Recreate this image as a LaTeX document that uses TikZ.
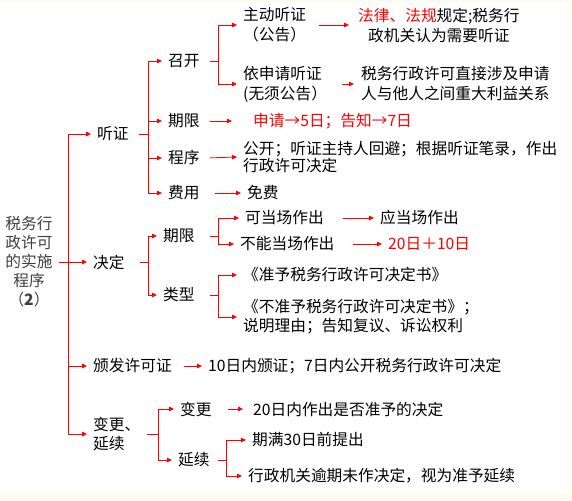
\documentclass[tikz,border=0pt]{standalone}
\usepackage{fontspec}
\setmainfont{Noto Sans CJK SC}
\usetikzlibrary{arrows.meta}
\definecolor{cream}{RGB}{255,251,238}
\definecolor{lred}{RGB}{255,0,0}

\begin{document}
\begin{tikzpicture}[x=1pt, y=-1pt]
\tikzset{
  txt/.style={anchor=west, inner xsep=6pt, inner ysep=1pt, font=\fontsize{15.7}{19}\selectfont, text=black},
  two/.style={txt, align=left},
  hot/.style={txt, text=lred},
  stem/.style={draw=lred, line width=0.8pt},
  link/.style={stem, -{Triangle[length=5pt,width=4.5pt]}}
}
% page
\fill[cream] (0,0) rectangle (572,500);
\fill[white] (0,2) rectangle (567,493);
\useasboundingbox (0,0) rectangle (572,500);

% root and first level
\node[txt, align=center, anchor=center, text=black!75] (root) at (29,262) {税务行\\政许可\\的实施\\程序\\（\textbf{2}）};
\node[txt] (tz) at (91,134) {听证};
\node[txt] (jd) at (87,262) {决定};
\node[txt] (bf) at (87,366) {颁发许可证};
\node[two] (bg) at (87,434) {变更、\\延续};

% hearing
\node[txt] (zk) at (162,61) {召开};
\node[txt] (qx1) at (162,121) {期限};
\node[txt] (cx) at (162,158) {程序};
\node[txt] (fy) at (162,193) {费用};
\node[txt, align=center, font=\fontsize{15.7}{20}\selectfont] (zd) at (237,25) {主动听证\\（公告）};
\node[txt, align=center, font=\fontsize{15.7}{20}\selectfont] (fl) at (352,25) {\textcolor{lred}{法律、法规}规定;税务行\\政机关认为需要听证};
\node[two, font=\fontsize{15.7}{20}\selectfont] (ysq) at (237,84) {依申请听证\\(无须公告）};
\node[two, font=\fontsize{15.7}{20}\selectfont] (sw) at (355,84) {税务行政许可直接涉及申请\\人与他人之间重大利益关系};
\node[hot] (sq) at (247,121) {申请→5日；告知→7日};
\node[two, font=\fontsize{15.7}{17.5}\selectfont] (gk) at (237,157) {公开；听证主持人回避；根据听证笔录，作出\\行政许可决定};
\node[txt] (mf) at (241,193) {免费};

% decision
\node[txt] (qx2) at (157,236) {期限};
\node[txt] (lx) at (157,295) {类型};
\node[txt] (kd) at (239,218) {可当场作出};
\node[txt] (bn) at (234,244) {不能当场作出};
\node[txt] (yd) at (374,218) {应当场作出};
\node[hot] (es) at (382,244) {20日＋10日};
\node[txt] (zy) at (237,275) {《准予税务行政许可决定书》};
\node[two] (by) at (237,317) {《不准予税务行政许可决定书》；\\说明理由；告知复议、诉讼权利};

% licence
\node[txt] (bz) at (202,366) {10日内颁证；7日内公开税务行政许可决定};

% change and renewal
\node[txt] (bg2) at (174,409) {变更};
\node[txt] (yx) at (172,460) {延续};
\node[txt] (es2) at (247,409) {20日内作出是否准予的决定};
\node[txt] (qm) at (246,440) {期满30日前提出};
\node[txt] (xz) at (242,476) {行政机关逾期未作决定，视为准予延续};

% junctions
\coordinate (j0) at (68,262);
\coordinate (j1) at (148,134);
\coordinate (j2) at (218,61);
\coordinate (j3) at (148,262);
\coordinate (j4) at (218,236);
\coordinate (j5) at (218,295);
\coordinate (j6) at (158,434);
\coordinate (j7) at (226,460);

\draw[stem] (root.east) -- (j0);
\draw[stem, shorten <=4pt] (tz.east) -- (j1);
\draw[stem, shorten <=4pt] (zk.east) -- (j2);
\draw[stem, shorten <=9pt] (jd.east) -- (j3);
\draw[stem, shorten <=9pt] (qx2.east) -- (j4);
\draw[stem, shorten <=9pt] (lx.east) -- (j5);
\draw[stem] (bg.east) -- (j6);
\draw[stem, shorten <=2pt] (yx.east) -- (j7);

\foreach \kid in {tz,jd,bf,bg} \draw[link] (j0) |- (\kid.west);
\foreach \kid in {zk,qx1,cx,fy} \draw[link] (j1) |- (\kid.west);
\foreach \kid in {zd,ysq} \draw[link] (j2) |- (\kid.west);
\foreach \kid in {qx2,lx} \draw[link] (j3) |- (\kid.west);
\foreach \kid in {kd,bn} \draw[link] (j4) |- (\kid.west);
\foreach \kid in {zy,by} \draw[link] (j5) |- (\kid.west);
\foreach \kid in {bg2,yx} \draw[link] (j6) |- (\kid.west);
\foreach \kid in {qm,xz} \draw[link] (j7) |- (\kid.west);

% straight links
\draw[link, shorten <=7pt, shorten >=3pt] (zd.east) -- (fl.west);
\draw[link, shorten <=9pt, shorten >=1pt] (ysq.east) -- (sw.west);
\draw[link, shorten <=4pt, shorten >=15pt] (qx1.east) -- (sq.west);
\draw[link, shorten <=4pt] (cx.east) -- (gk.west);
\draw[link, shorten <=9pt] (fy.east) -- (mf.west);
\draw[link, shorten <=13pt] (kd.east) -- (yd.west);
\draw[link, shorten <=12pt] (bn.east) -- (es.west);
\draw[link, shorten <=6pt] (bf.east) -- (bz.west);
\draw[link, shorten <=10pt, shorten >=4pt] (bg2.east) -- (es2.west);
\end{tikzpicture}
\end{document}
